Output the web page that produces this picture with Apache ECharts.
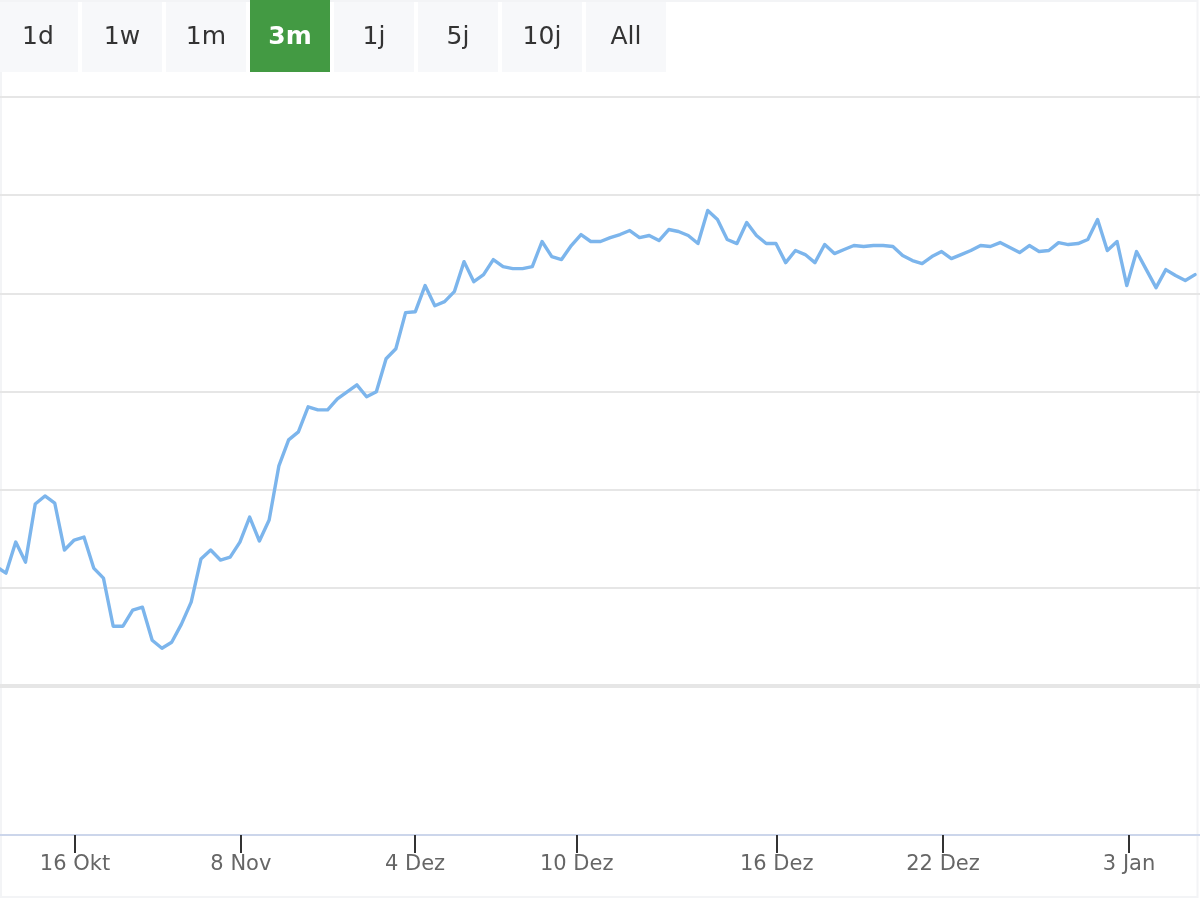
<!DOCTYPE html>
<html>
<head>
<meta charset="utf-8">
<script src="https://cdn.jsdelivr.net/npm/echarts@6/dist/echarts.min.js"></script>
<style>
html,body{margin:0;padding:0;background:#fff;}
#chart{width:1200px;height:900px;}
</style>
</head>
<body>
<div id="chart"></div>
<script>
// Range selector buttons
const rangeButtons = ['1d', '1w', '1m', '3m', '1j', '5j', '10j', 'All'];
const activeRange = '3m';

// Price series (one value per trading point)
const prices = [
  112.16, 111.50, 114.66, 112.62, 118.54, 119.36, 118.64, 113.85, 114.87, 115.17,
  112.01, 110.99, 106.09, 106.09, 107.72, 108.03, 104.66, 103.85, 104.46, 106.30,
  108.54, 112.93, 113.85, 112.83, 113.13, 114.66, 117.21, 114.77, 116.91, 122.42,
  125.07, 125.89, 128.44, 128.13, 128.13, 129.26, 129.97, 130.68, 129.46, 129.97,
  133.34, 134.36, 138.03, 138.13, 140.79, 138.74, 139.15, 140.17, 143.23, 141.19,
  141.91, 143.44, 142.72, 142.52, 142.52, 142.72, 145.28, 143.74, 143.44, 144.87,
  145.99, 145.28, 145.28, 145.68, 145.99, 146.40, 145.68, 145.89, 145.38, 146.50,
  146.30, 145.89, 145.07, 148.44, 147.52, 145.48, 145.07, 147.21, 145.89, 145.07,
  145.07, 143.13, 144.36, 143.95, 143.13, 144.97, 144.05, 144.46, 144.87, 144.77,
  144.87, 144.87, 144.77, 143.85, 143.34, 143.03, 143.74, 144.26, 143.54, 143.95,
  144.36, 144.87, 144.77, 145.17, 144.66, 144.15, 144.87, 144.26, 144.36, 145.17,
  144.97, 145.07, 145.48, 147.52, 144.36, 145.28, 140.79, 144.26, 142.42, 140.58,
  142.42, 141.81, 141.30, 141.91
];

// Date tick positions (in point index units) and their labels
const tickIdx = [8.08, 25.1, 42.97, 59.56, 80.08, 97.14, 116.23];
const tickLabels = ['16 Okt', '8 Nov', '4 Dez', '10 Dez', '16 Dez', '22 Dez', '3 Jan'];

// y range (no labels shown)
const yMin = 100, yMax = 160, yStep = 10;
// visible index window
const xMin = 0.385, xMax = 123.51;

const FONT = '"DejaVu Sans", Verdana, sans-serif';
const chart = echarts.init(document.getElementById('chart'), null, {renderer: 'canvas'});

const buttonGraphics = [];
rangeButtons.forEach((label, i) => {
  const active = label === activeRange;
  const x = -2 + i * 84;
  buttonGraphics.push({
    type: 'rect',
    shape: {x: x, y: active ? 0 : 2, width: 80, height: active ? 72 : 70},
    style: {fill: active ? '#439a43' : '#f7f8fa'},
    z: 10
  });
  buttonGraphics.push({
    type: 'text',
    x: x + 40,
    y: 37,
    style: {
      text: label,
      align: 'center',
      verticalAlign: 'middle',
      fill: active ? '#ffffff' : '#333333',
      fontSize: 25,
      fontWeight: active ? 'bold' : 'normal',
      fontFamily: FONT
    },
    z: 11
  });
});

const option = {
  animation: false,
  backgroundColor: '#ffffff',
  graphic: [
    {
      type: 'rect',
      shape: {x: 1, y: 1, width: 1196.5, height: 896},
      style: {fill: 'none', stroke: '#f3f4f6', lineWidth: 2},
      z: 0
    }
  ].concat(buttonGraphics),
  grid: [
    {left: 0, right: 0, top: 97, height: 589},
    {left: 0, right: 0, top: 686, height: 149}
  ],
  xAxis: [
    {
      type: 'value', gridIndex: 0, min: xMin, max: xMax,
      axisLine: {show: true, lineStyle: {color: '#e6e6e6', width: 4}},
      axisTick: {show: false},
      axisLabel: {show: false},
      splitLine: {show: false}
    },
    {
      type: 'value', gridIndex: 1, min: xMin, max: xMax,
      axisLine: {show: true, lineStyle: {color: '#ccd6eb', width: 2}},
      axisTick: {show: true, customValues: tickIdx, length: 18, lineStyle: {color: '#333333', width: 2}},
      axisLabel: {
        show: true,
        customValues: tickIdx,
        formatter: function (v) {
          let best = 0, d = Infinity;
          tickIdx.forEach((t, k) => { if (Math.abs(t - v) < d) { d = Math.abs(t - v); best = k; } });
          return tickLabels[best];
        },
        margin: 19,
        color: '#666666',
        fontSize: 21,
        fontFamily: FONT
      },
      splitLine: {show: false}
    }
  ],
  yAxis: [
    {
      type: 'value', gridIndex: 0, min: yMin, max: yMax, interval: yStep,
      axisLine: {show: false}, axisTick: {show: false}, axisLabel: {show: false},
      splitLine: {show: true, lineStyle: {color: '#e6e6e6', width: 2}}
    },
    {
      type: 'value', gridIndex: 1, min: 0, max: 1,
      axisLine: {show: false}, axisTick: {show: false}, axisLabel: {show: false},
      splitLine: {show: false}
    }
  ],
  series: [
    {
      type: 'line',
      xAxisIndex: 0, yAxisIndex: 0,
      data: prices.map((v, i) => [i, v]),
      showSymbol: false,
      symbol: 'none',
      clip: true,
      lineStyle: {color: '#7cb5ec', width: 3.4, join: 'round', cap: 'round'},
      itemStyle: {color: '#7cb5ec'}
    }
  ]
};

chart.setOption(option);
</script>
</body>
</html>
